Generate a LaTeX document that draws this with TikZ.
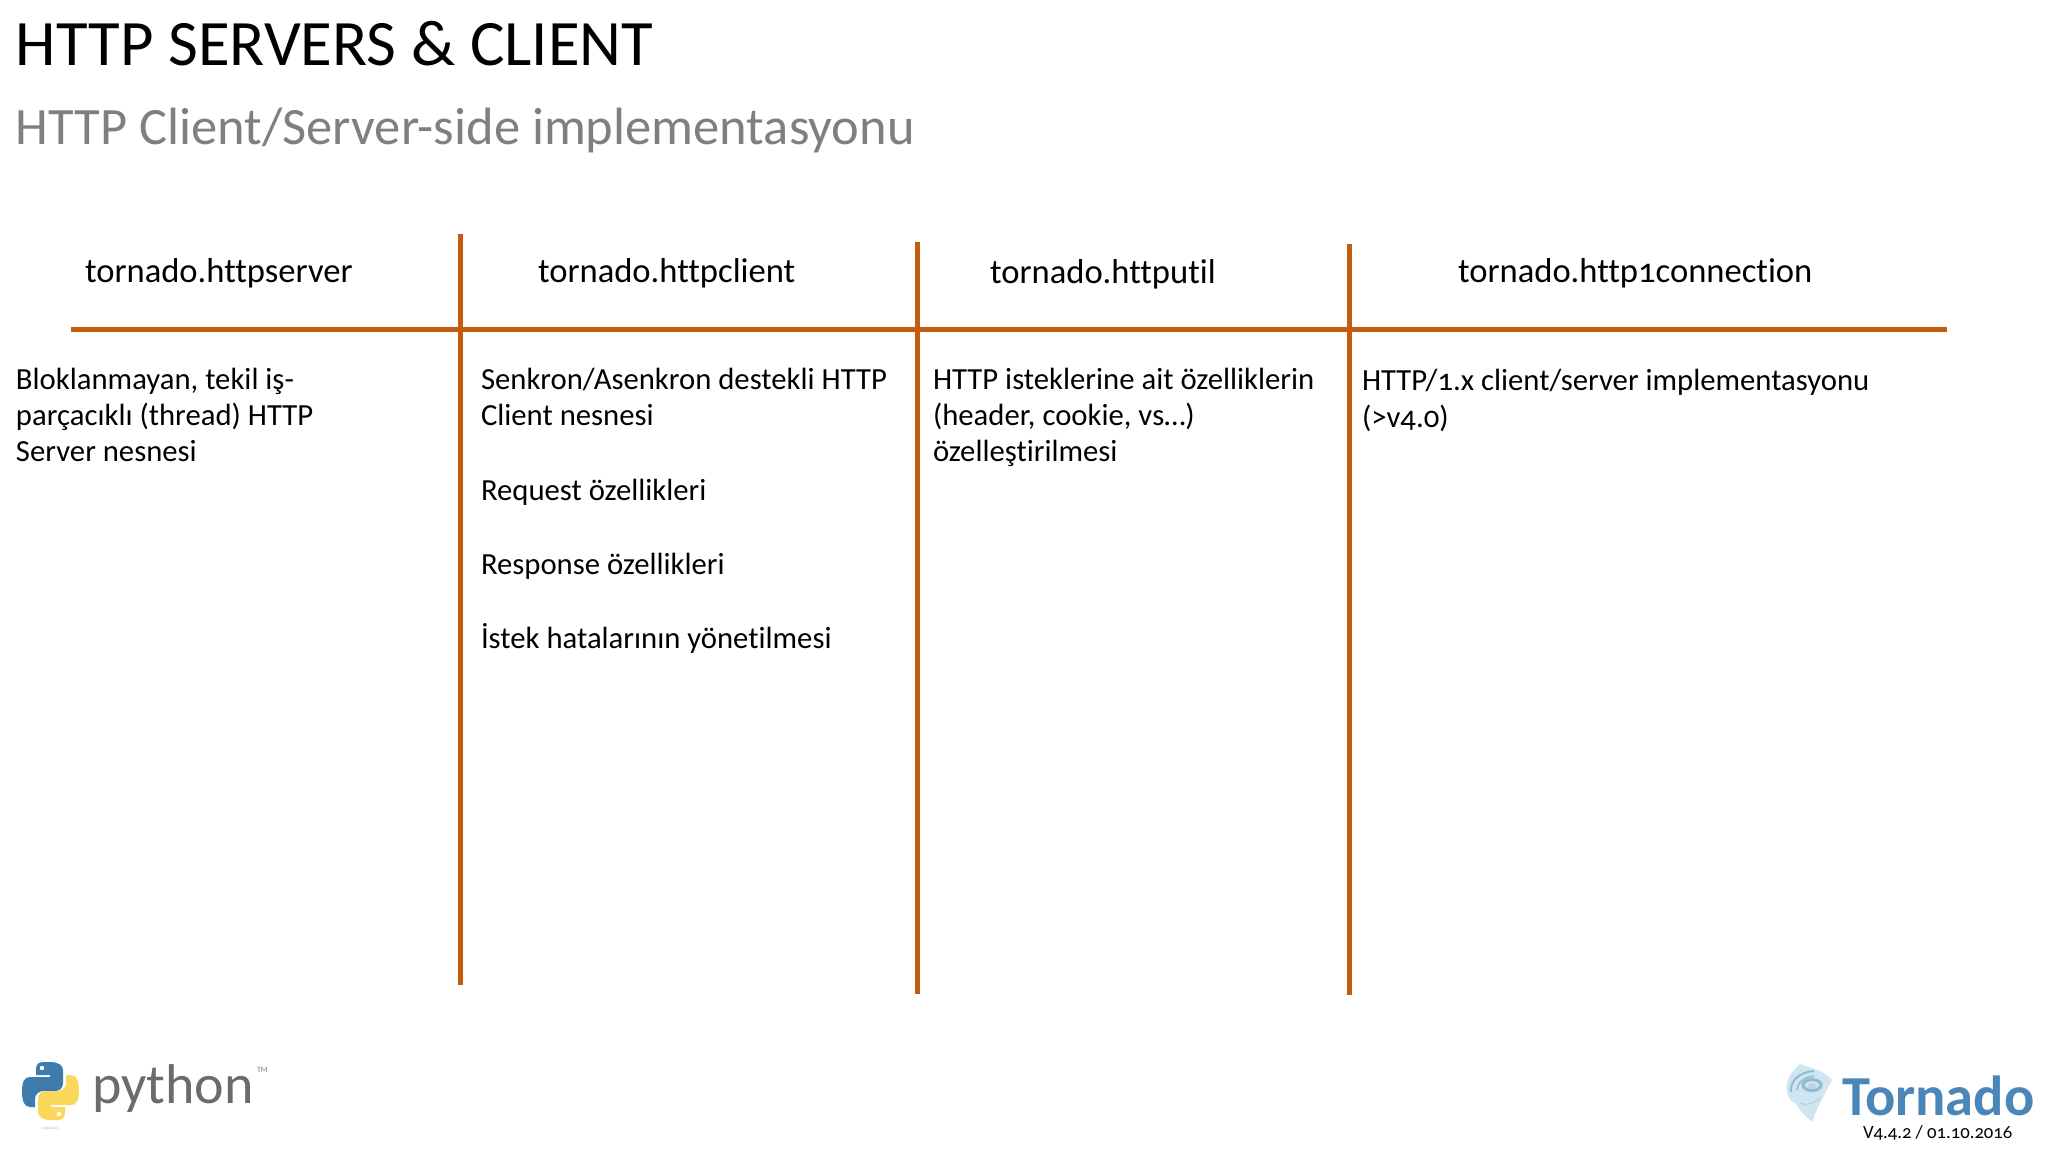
\documentclass[tikz,border=0pt]{standalone}
\usepackage{fontspec}
\setmainfont[Numbers=OldStyle,Ligatures=NoCommon]{Carlito}
\definecolor{rule}{HTML}{C55A11}
\definecolor{subgrey}{HTML}{7F7F7F}
\definecolor{pyblue}{HTML}{3F7CAE}
\definecolor{pyyellow}{HTML}{FBD85C}
\definecolor{torblue}{HTML}{4A86B8}
\definecolor{swirl}{HTML}{CFE6F0}
\definecolor{swirldark}{HTML}{8FBBD2}
\tikzset{
 txt/.style={anchor=base west,inner sep=0pt,outer sep=0pt,text=black},
 head/.style={txt,font=\fontsize{34.6}{40}\selectfont},
 body/.style={txt,font=\fontsize{30.7}{35.5}\selectfont},
 rulerline/.style={rule,line width=5pt},
}
\begin{document}
\begin{tikzpicture}[x=1pt,y=-1pt]
\useasboundingbox (0,0) rectangle (2048,1152);
\node[txt,font=\fontsize{64.8}{70}\selectfont] (title) at (16,65) {HTTP SERVERS \& CLIENT};
\node[txt,text=subgrey,font=\fontsize{52.5}{60}\selectfont] (subtitle) at (16,144) {HTTP Client/Server-side implementasyonu};
% rules
\coordinate (hl) at (71,329); \coordinate (hr) at (1947,329);
\coordinate (a1) at (460,234); \coordinate (a2) at (460,985);
\coordinate (b1) at (917,242); \coordinate (b2) at (917,994);
\coordinate (c1) at (1349,244); \coordinate (c2) at (1349,995);
\draw[rulerline] (hl) -- (hr);
\draw[rulerline] (a1) -- (a2);
\draw[rulerline] (b1) -- (b2);
\draw[rulerline] (c1) -- (c2);
% headers
\node[head] (h1) at (85,282) {tornado.httpserver};
\node[head] (h2) at (538,282) {tornado.httpclient};
\node[head] (h3) at (990,283) {tornado.httputil};
\node[head] (h4) at (1458,282) {tornado.http1connection};
% column 1
\node[body] (c1l1) at (16,389) {Bloklanmayan, tekil iş-};
\node[body] (c1l2) at (16,425) {parçacıklı (thread) HTTP};
\node[body] (c1l3) at (16,461) {Server nesnesi};
% column 2
\node[body] (c2l1) at (481,389) {Senkron/Asenkron destekli HTTP};
\node[body] (c2l2) at (481,425) {Client nesnesi};
\node[body] (c2l3) at (481,500) {Request özellikleri};
\node[body] (c2l4) at (481,574) {Response özellikleri};
\node[body] (c2l5) at (481,648) {İstek hatalarının yönetilmesi};
% column 3
\node[body] (c3l1) at (933,389) {HTTP isteklerine ait özelliklerin};
\node[body] (c3l2) at (933,425) {(header, cookie, vs…)};
\node[body] (c3l3) at (933,461) {özelleştirilmesi};
% column 4
\node[body] (c4l1) at (1362,390) {HTTP/1.x client/server implementasyonu};
\node[body] (c4l2) at (1362,427) {(>v4.0)};
% python logo
\def\snake{(43,1062) .. controls (37,1062) and (36,1066) .. (36,1070) -- (36,1075) -- (50,1075) -- (50,1077) -- (30,1077)
 .. controls (24,1077) and (22,1082) .. (22,1092) .. controls (22,1102) and (25,1107) .. (30,1107) -- (35,1107) -- (35,1099)
 .. controls (35,1094) and (39,1091) .. (44,1091) -- (55,1091) .. controls (60,1091) and (63,1088) .. (63,1083) -- (63,1070)
 .. controls (63,1065) and (58,1062) .. (50,1062) -- cycle}
\fill[pyblue] \snake;
\fill[pyyellow,rotate around={180:(50.5,1091)}] \snake;
\fill[white] (42,1068) circle (2.2);
\fill[white] (59,1114) circle (2.2);
\fill[black!10] (50,1128) ellipse (9 and 1.2);
\node[txt,text=black!58,font=\fontsize{56}{60}\selectfont] (py) at (92,1103) {python};
\node[txt,text=black!50,font=\fontsize{8}{9}\selectfont] (tm) at (257,1072) {TM};
% tornado logo
\fill[swirl] (1800,1064) .. controls (1786,1075) and (1780,1095) .. (1796,1104) .. controls (1800,1112) and (1808,1118) .. (1812,1122)
 .. controls (1816,1110) and (1824,1095) .. (1832,1080) .. controls (1824,1070) and (1810,1068) .. (1800,1064) -- cycle;
\draw[swirldark,line width=2pt] (1791,1092) .. controls (1790,1080) and (1800,1072) .. (1814,1071);
\draw[swirldark,line width=1.5pt] (1797,1090) .. controls (1797,1083) and (1804,1077) .. (1814,1076);
\draw[swirldark,line width=3pt] (1812,1085) ellipse (9 and 5.5);
\fill[swirldark!60] (1812,1086) ellipse (5 and 3);
\draw[swirldark!70,line width=1pt] (1800,1103) .. controls (1806,1106) and (1812,1104) .. (1820,1098);
\node[txt,text=torblue,font=\fontsize{56.5}{60}\selectfont\bfseries] (tornado) at (1842,1115) {Tornado};
\node[txt,font=\fontsize{18.7}{24}\selectfont] (ver) at (1863,1138) {V4.4.2 / 01.10.2016};
\end{tikzpicture}
\end{document}
